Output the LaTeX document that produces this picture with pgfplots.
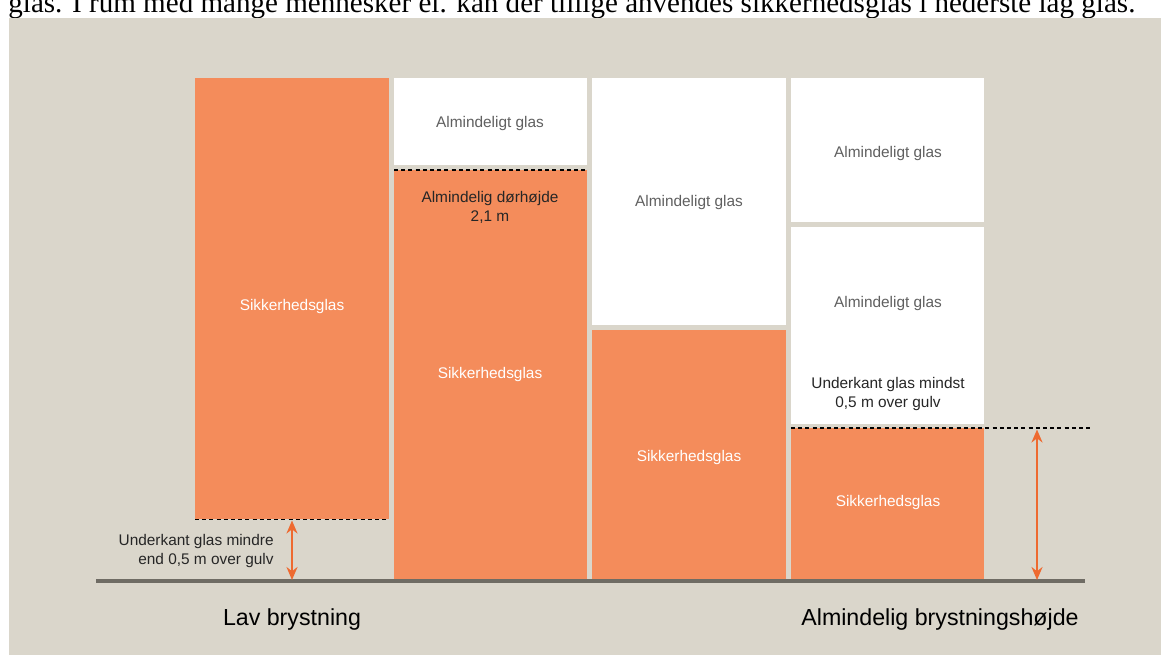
\documentclass[border=0pt]{standalone}
\usepackage{pgfplots}
\pgfplotsset{compat=1.18}
\usepackage{fontspec}
\setmainfont{Liberation Sans}
\newfontfamily\timesfont{Liberation Serif}
\usetikzlibrary{arrows.meta}
\definecolor{beige}{HTML}{DAD6CB}
\definecolor{glasorange}{HTML}{F48C5B}
\definecolor{arroworange}{HTML}{EE6A30}
\definecolor{floorgray}{HTML}{6F6C64}
\definecolor{graytext}{HTML}{606060}
\definecolor{darktext}{HTML}{262626}
\begin{document}
\begin{tikzpicture}
\useasboundingbox (0,0) rectangle (580.5pt,327.5pt);
\clip (0,0) rectangle (580.5pt,327.5pt);
\begin{axis}[at={(0,0)}, anchor=south west, scale only axis,
  width=580.5pt, height=327.5pt,
  xmin=0, xmax=1161, ymin=0, ymax=655, y dir=reverse,
  hide axis, clip=false]
% page background
\addplot[fill=white, draw=none] coordinates {(0,0) (1161,0) (1161,655) (0,655)} --cycle;
% cut-off text line at the top
\node[anchor=base west, inner sep=0pt, font=\timesfont\fontsize{12.5}{13}\selectfont] at (axis cs:8,12)
  {\resizebox{563.5pt}{!}{glas. I rum med mange mennesker el. kan der tillige anvendes sikkerhedsglas i nederste lag glas.}};
% beige panel
\addplot[fill=beige, draw=none] coordinates {(9,18) (1161,18) (1161,655) (9,655)} --cycle;
% bar 1
\addplot[fill=glasorange, draw=none] coordinates {(195,78) (389,78) (389,519) (195,519)} --cycle;
% bar 2
\addplot[fill=white, draw=none] coordinates {(394,78) (587,78) (587,165) (394,165)} --cycle;
\addplot[fill=glasorange, draw=none] coordinates {(394,170) (587,170) (587,580) (394,580)} --cycle;
% bar 3
\addplot[fill=white, draw=none] coordinates {(592,78) (786,78) (786,325) (592,325)} --cycle;
\addplot[fill=glasorange, draw=none] coordinates {(592,330) (786,330) (786,580) (592,580)} --cycle;
% bar 4
\addplot[fill=white, draw=none] coordinates {(791,78) (984,78) (984,222) (791,222)} --cycle;
\addplot[fill=white, draw=none] coordinates {(791,227) (984,227) (984,424) (791,424)} --cycle;
\addplot[fill=glasorange, draw=none] coordinates {(791,428) (984,428) (984,580) (791,580)} --cycle;
% floor
\addplot[floorgray, line width=2pt] coordinates {(96,581) (1085,581)};
% dashed lines
\addplot[black, line width=0.6pt, dash pattern=on 2pt off 1.6pt] coordinates {(195,519.5) (389,519.5)};
\addplot[black, line width=0.6pt, dash pattern=on 2pt off 1.6pt] coordinates {(394,170) (587,170)};
\addplot[black, line width=0.6pt, dash pattern=on 2pt off 1.6pt] coordinates {(791,428) (1090,428)};
% arrows
\addplot[arroworange, line width=1.2pt, {Stealth[length=6.5pt,width=5.5pt]}-{Stealth[length=6.5pt,width=5.5pt]}] coordinates {(292,520.5) (292,580)};
\addplot[arroworange, line width=1.2pt, {Stealth[length=6.5pt,width=5.5pt]}-{Stealth[length=6.5pt,width=5.5pt]}] coordinates {(1037,429.5) (1037,580)};
% labels
\tikzset{lbl/.style={font=\fontsize{7.7}{9.5}\selectfont, align=center, inner sep=0pt}}
\node[lbl, white] at (axis cs:292,307) {Sikkerhedsglas};
\node[lbl, graytext] at (axis cs:490,124) {Almindeligt glas};
\node[lbl, darktext] at (axis cs:490,207) {Almindelig dørhøjde\\2,1 m};
\node[lbl, white] at (axis cs:490,375) {Sikkerhedsglas};
\node[lbl, graytext] at (axis cs:689,203) {Almindeligt glas};
\node[lbl, white] at (axis cs:689,458) {Sikkerhedsglas};
\node[lbl, graytext] at (axis cs:888,154) {Almindeligt glas};
\node[lbl, graytext] at (axis cs:888,304) {Almindeligt glas};
\node[lbl, darktext] at (axis cs:888,394) {Underkant glas mindst\\0,5 m over gulv};
\node[lbl, white] at (axis cs:888,503) {Sikkerhedsglas};
\node[lbl, darktext, align=right, anchor=east] at (axis cs:274,551) {Underkant glas mindre\\end 0,5 m over gulv};
\node[font=\fontsize{11.6}{13}\selectfont, inner sep=0pt, black] at (axis cs:292,619) {Lav brystning};
\node[font=\fontsize{11.6}{13}\selectfont, inner sep=0pt, black] at (axis cs:940,619) {Almindelig brystningshøjde};
\end{axis}
\end{tikzpicture}
\end{document}
